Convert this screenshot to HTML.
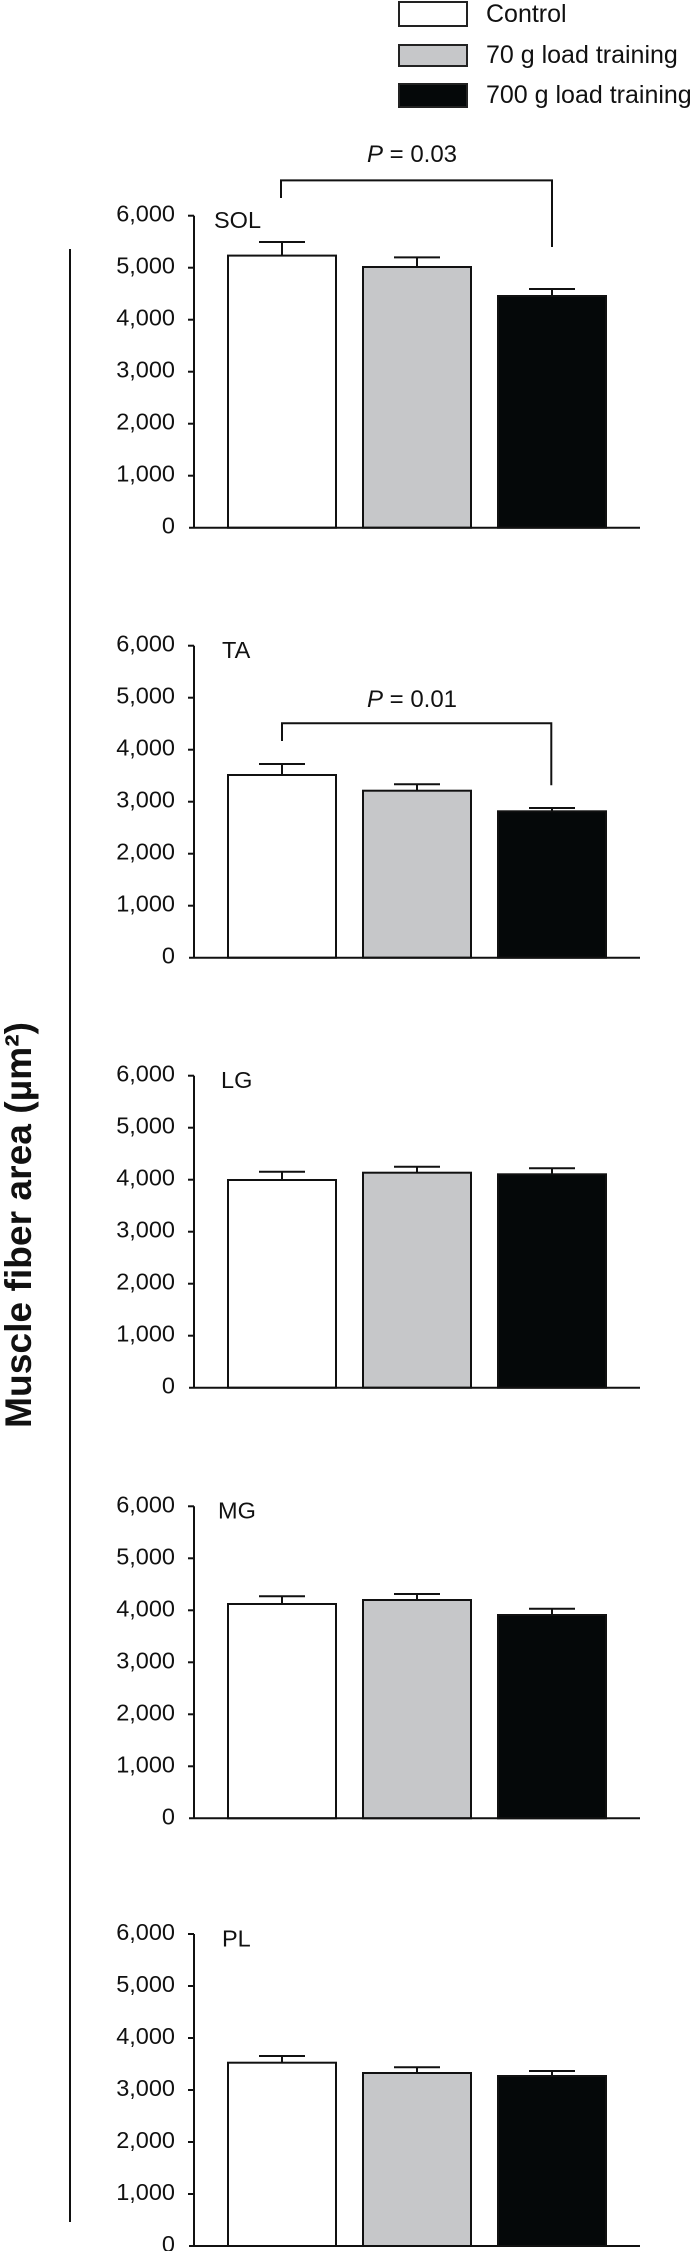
<!DOCTYPE html>
<html><head><meta charset="utf-8"><style>
html,body{margin:0;padding:0;background:#fff;}
svg{display:block;}
text{font-family:"Liberation Sans",Arial,sans-serif;fill:#111;}
</style></head><body>
<svg width="691" height="2251" viewBox="0 0 691 2251" xmlns="http://www.w3.org/2000/svg">
<defs>
<g id="ax" stroke="#111" stroke-width="2" fill="none">
<line x1="194" y1="-312" x2="194" y2="0"/>
<line x1="189" y1="0" x2="640" y2="0"/>
<line x1="188" y1="-52" x2="194" y2="-52"/>
<line x1="188" y1="-104" x2="194" y2="-104"/>
<line x1="188" y1="-156" x2="194" y2="-156"/>
<line x1="188" y1="-208" x2="194" y2="-208"/>
<line x1="188" y1="-260" x2="194" y2="-260"/>
<line x1="188" y1="-312" x2="194" y2="-312"/>
</g>
<g id="tl" font-size="23.5" text-anchor="end">
<text x="175" y="6">0</text>
<text x="175" y="-46">1,000</text>
<text x="175" y="-98">2,000</text>
<text x="175" y="-150">3,000</text>
<text x="175" y="-202">4,000</text>
<text x="175" y="-254">5,000</text>
<text x="175" y="-306">6,000</text>
</g>
</defs>

<!-- legend -->
<rect x="399" y="2" width="68" height="24" fill="#fff" stroke="#222" stroke-width="2"/>
<rect x="399" y="45" width="68" height="21" fill="#c6c7c9" stroke="#222" stroke-width="2"/>
<rect x="399" y="84" width="68" height="23" fill="#050809" stroke="#222" stroke-width="2"/>
<text x="486" y="22" font-size="25">Control</text>
<text x="486" y="63" font-size="25">70 g load training</text>
<text x="486" y="103" font-size="25">700 g load training</text>

<!-- y label -->
<line x1="70" y1="249" x2="70" y2="2222" stroke="#111" stroke-width="2"/>
<text transform="translate(31,1225) rotate(-90)" text-anchor="middle" font-size="37" font-weight="bold" textLength="406" lengthAdjust="spacingAndGlyphs">Muscle fiber area (µm²)</text>

<!-- SOL -->
<g transform="translate(0,527.7)">
<use href="#tl"/>
<text x="214" y="-299.7" font-size="23.5">SOL</text>
<g stroke="#111" stroke-width="2">
<rect x="228" y="-272.1" width="108" height="272.1" fill="#fff"/>
<rect x="363" y="-260.7" width="108" height="260.7" fill="#c6c7c9"/>
<rect x="498" y="-231.7" width="108" height="231.7" fill="#050809"/>
<line x1="282" y1="-272.1" x2="282" y2="-285.7"/><line x1="259" y1="-285.7" x2="305" y2="-285.7"/>
<line x1="417" y1="-260.7" x2="417" y2="-270.3"/><line x1="394" y1="-270.3" x2="440" y2="-270.3"/>
<line x1="552" y1="-231.7" x2="552" y2="-238.7"/><line x1="529" y1="-238.7" x2="575" y2="-238.7"/>
</g>
<use href="#ax"/>
</g>
<polyline points="281,198 281,180.4 552,180.4 552,247" fill="none" stroke="#111" stroke-width="2"/>
<text x="412" y="162" font-size="24" text-anchor="middle"><tspan font-style="italic">P</tspan> = 0.03</text>

<!-- TA -->
<g transform="translate(0,957.7)">
<use href="#tl"/>
<text x="222" y="-299.7" font-size="23.5">TA</text>
<g stroke="#111" stroke-width="2">
<rect x="228" y="-182.7" width="108" height="182.7" fill="#fff"/>
<rect x="363" y="-167" width="108" height="167" fill="#c6c7c9"/>
<rect x="498" y="-146.4" width="108" height="146.4" fill="#050809"/>
<line x1="282" y1="-182.7" x2="282" y2="-193.7"/><line x1="259" y1="-193.7" x2="305" y2="-193.7"/>
<line x1="417" y1="-167" x2="417" y2="-173.4"/><line x1="394" y1="-173.4" x2="440" y2="-173.4"/>
<line x1="552" y1="-146.4" x2="552" y2="-149.7"/><line x1="529" y1="-149.7" x2="575" y2="-149.7"/>
</g>
<use href="#ax"/>
</g>
<polyline points="282,741 282,723.3 551.3,723.3 551.3,785.3" fill="none" stroke="#111" stroke-width="2"/>
<text x="412" y="707" font-size="24" text-anchor="middle"><tspan font-style="italic">P</tspan> = 0.01</text>

<!-- LG -->
<g transform="translate(0,1387.7)">
<use href="#tl"/>
<text x="221" y="-299.7" font-size="23.5">LG</text>
<g stroke="#111" stroke-width="2">
<rect x="228" y="-207.7" width="108" height="207.7" fill="#fff"/>
<rect x="363" y="-215" width="108" height="215" fill="#c6c7c9"/>
<rect x="498" y="-213.4" width="108" height="213.4" fill="#050809"/>
<line x1="282" y1="-207.7" x2="282" y2="-216"/><line x1="259" y1="-216" x2="305" y2="-216"/>
<line x1="417" y1="-215" x2="417" y2="-221"/><line x1="394" y1="-221" x2="440" y2="-221"/>
<line x1="552" y1="-213.4" x2="552" y2="-219.4"/><line x1="529" y1="-219.4" x2="575" y2="-219.4"/>
</g>
<use href="#ax"/>
</g>

<!-- MG -->
<g transform="translate(0,1818.3)">
<use href="#tl"/>
<text x="218" y="-299.7" font-size="23.5">MG</text>
<g stroke="#111" stroke-width="2">
<rect x="228" y="-214.3" width="108" height="214.3" fill="#fff"/>
<rect x="363" y="-218.3" width="108" height="218.3" fill="#c6c7c9"/>
<rect x="498" y="-203.3" width="108" height="203.3" fill="#050809"/>
<line x1="282" y1="-214.3" x2="282" y2="-222"/><line x1="259" y1="-222" x2="305" y2="-222"/>
<line x1="417" y1="-218.3" x2="417" y2="-224.3"/><line x1="394" y1="-224.3" x2="440" y2="-224.3"/>
<line x1="552" y1="-203.3" x2="552" y2="-209.6"/><line x1="529" y1="-209.6" x2="575" y2="-209.6"/>
</g>
<use href="#ax"/>
</g>

<!-- PL -->
<g transform="translate(0,2246)">
<use href="#tl"/>
<text x="222" y="-299.7" font-size="23.5">PL</text>
<g stroke="#111" stroke-width="2">
<rect x="228" y="-183.3" width="108" height="183.3" fill="#fff"/>
<rect x="363" y="-173" width="108" height="173" fill="#c6c7c9"/>
<rect x="498" y="-170" width="108" height="170" fill="#050809"/>
<line x1="282" y1="-183.3" x2="282" y2="-190"/><line x1="259" y1="-190" x2="305" y2="-190"/>
<line x1="417" y1="-173" x2="417" y2="-178.7"/><line x1="394" y1="-178.7" x2="440" y2="-178.7"/>
<line x1="552" y1="-170" x2="552" y2="-175"/><line x1="529" y1="-175" x2="575" y2="-175"/>
</g>
<use href="#ax"/>
</g>
</svg>
</body></html>
